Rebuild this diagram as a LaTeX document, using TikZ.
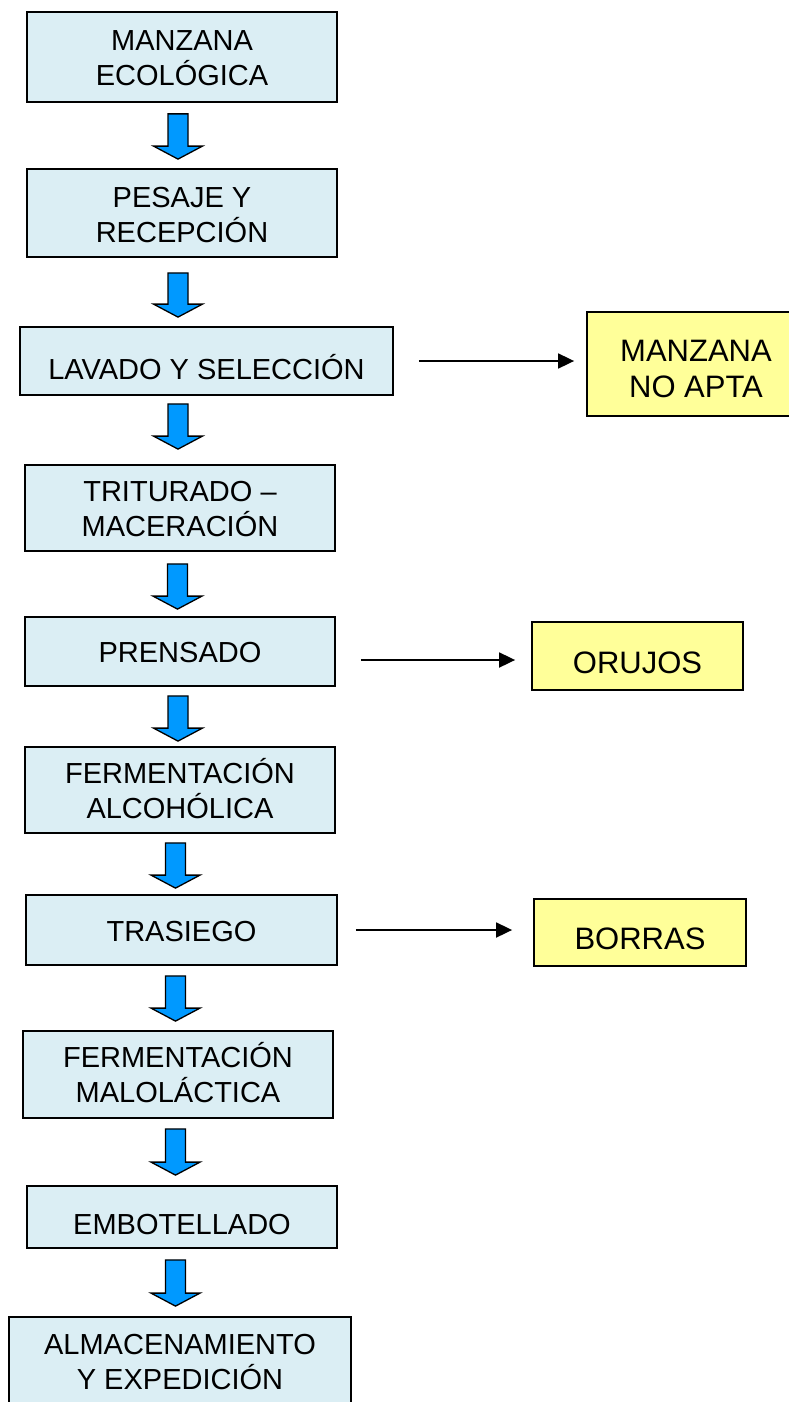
\documentclass[tikz,border=0pt]{standalone}
\usepackage{fontspec}
\setmainfont{Liberation Sans}
\usetikzlibrary{arrows.meta,calc}
\definecolor{boxblue}{HTML}{DBEEF4}
\definecolor{boxyellow}{HTML}{FFFF99}
\definecolor{arrowblue}{HTML}{0099FF}
% block arrow: #1 x, #2 upper node, #3 gap below it, #4 lower node, #5 gap above it
\newcommand\flowarrowdraw[5]{%
  \path[flowarrow] let \p1=(#2.south), \p2=(#4.north) in
    (#1pt-10pt,\y1-#3pt) -- (#1pt+10pt,\y1-#3pt) -- (#1pt+10pt,\y2+#5pt+13pt)
    -- (#1pt+24.5pt,\y2+#5pt+13pt) -- (#1pt,\y2+#5pt) -- (#1pt-24.5pt,\y2+#5pt+13pt)
    -- (#1pt-10pt,\y2+#5pt+13pt) -- cycle;}
\tikzset{
  bluebox/.style={draw=black, fill=boxblue, line width=1.8pt, inner sep=0pt},
  yellowbox/.style={draw=black, fill=boxyellow, line width=1.8pt, inner sep=0pt},
  btxt/.style={align=center, font=\fontsize{29}{35}\selectfont, inner sep=0pt},
  ytxt/.style={align=center, font=\fontsize{31}{36}\selectfont, inner sep=0pt},
  flowarrow/.style={draw=black, fill=arrowblue, line width=1.3pt, line join=miter},
  sidearrow/.style={line width=1.8pt, -{Triangle[length=16pt,width=15pt]}}
}
\begin{document}
\begin{tikzpicture}[x=1pt,y=-1pt]
\useasboundingbox (0,0) rectangle (789,1402);
\clip (0,0) rectangle (789,1402);
\fill[white] (0,0) rectangle (789,1402);

% main flow boxes
\node[bluebox, minimum width=310pt, minimum height=90pt,
  label={[btxt, yshift=-1pt]center:MANZANA\\ECOLÓGICA}] (b1) at (182,57) {};
\node[bluebox, minimum width=310pt, minimum height=88pt,
  label={[btxt, yshift=-2.5pt]center:PESAJE Y\\RECEPCIÓN}] (b2) at (182,213) {};
\node[bluebox, minimum width=373pt, minimum height=68pt,
  label={[btxt, yshift=-6pt]center:LAVADO Y SELECCIÓN}] (b3) at (206.5,361) {};
\node[bluebox, minimum width=310pt, minimum height=86pt,
  label={[btxt, yshift=-1.5pt]center:TRITURADO –\\MACERACIÓN}] (b4) at (180,508) {};
\node[bluebox, minimum width=310pt, minimum height=69pt,
  label={[btxt, yshift=-1.5pt]center:PRENSADO}] (b5) at (180,651.5) {};
\node[bluebox, minimum width=310pt, minimum height=86pt,
  label={[btxt, yshift=1.5pt]center:FERMENTACIÓN\\ALCOHÓLICA}] (b6) at (180,790) {};
\node[bluebox, minimum width=311pt, minimum height=70pt,
  label={[btxt, yshift=-1.5pt]center:TRASIEGO}] (b7) at (181.5,930) {};
\node[bluebox, minimum width=310pt, minimum height=87pt,
  label={[btxt, yshift=2pt]center:FERMENTACIÓN\\MALOLÁCTICA}] (b8) at (178,1074.5) {};
\node[bluebox, minimum width=310pt, minimum height=62pt,
  label={[btxt, yshift=-8pt]center:EMBOTELLADO}] (b9) at (182,1217) {};
\node[bluebox, minimum width=342pt, minimum height=90pt,
  label={[btxt]center:ALMACENAMIENTO\\Y EXPEDICIÓN}] (b10) at (180,1362) {};

% by-product boxes
\node[yellowbox, minimum width=218pt, minimum height=104pt,
  label={[ytxt, yshift=-5pt]center:MANZANA\\NO APTA}] (y1) at (696,364) {};
\node[yellowbox, minimum width=211pt, minimum height=68pt,
  label={[ytxt, yshift=-7pt]center:ORUJOS}] (y2) at (637.5,656) {};
\node[yellowbox, minimum width=212pt, minimum height=67pt,
  label={[ytxt, yshift=-6.5pt]center:BORRAS}] (y3) at (640,932.5) {};

% block arrows between steps
\flowarrowdraw{178}{b1}{11}{b2}{9}
\flowarrowdraw{178}{b2}{15}{b3}{9}
\flowarrowdraw{178}{b3}{8}{b4}{15}
\flowarrowdraw{177.5}{b4}{12}{b5}{7}
\flowarrowdraw{178}{b5}{9}{b6}{5}
\flowarrowdraw{175.5}{b6}{9}{b7}{6}
\flowarrowdraw{175.5}{b7}{10}{b8}{9}
\flowarrowdraw{175.5}{b8}{10}{b9}{10}
\flowarrowdraw{175.5}{b9}{11}{b10}{10}

% side arrows
\draw[sidearrow, shorten <=25pt, shorten >=12pt] (b3.east) -- (b3.east -| y1.west);
\draw[sidearrow, shorten <=25pt, shorten >=16pt] ($(b5.east)+(0,8.5)$) -- ($(b5.east -| y2.west)+(0,8.5)$);
\draw[sidearrow, shorten <=18pt, shorten >=21pt] (b7.east) -- (b7.east -| y3.west);
\end{tikzpicture}
\end{document}
